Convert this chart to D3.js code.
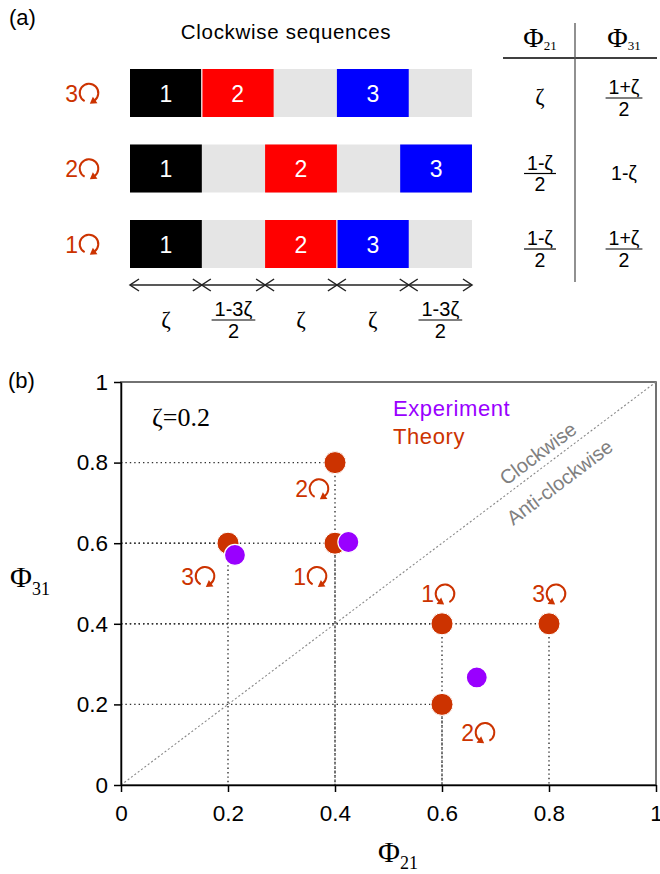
<!DOCTYPE html>
<html>
<head>
<meta charset="utf-8">
<script src="https://cdn.jsdelivr.net/npm/d3@7"></script>
<style>body{margin:0;background:#fff}</style>
</head>
<body>
<div id="fig"></div>
<script>
// panel (a): clockwise sequences, 0 = empty gap slot
const rowNames = ["3", "2", "1"];
const seq3 = [1, 2, 0, 3, 0];
const seq2 = [1, 0, 2, 0, 3];
const seq1 = [1, 0, 2, 3, 0];
const zetaDrawn = 0.21;   // width of a block as drawn in the sketch
const axisSlots = ["z", "g", "z", "z", "g"];
const axisLabels = ["ζ", "1-3ζ|2", "ζ", "ζ", "1-3ζ|2"];
const tablePhi21 = ["ζ", "1-ζ|2", "1-ζ|2"];
const tablePhi31 = ["1+ζ|2", "1-ζ", "1+ζ|2"];

// panel (b)
const zeta = 0.2;
const theoryPhi21 = [0.2, 0.4, 0.4, 0.6, 0.8, 0.6];
const theoryPhi31 = [0.6, 0.8, 0.6, 0.4, 0.4, 0.2];
const theoryNum = ["3", "2", "1", "1", "3", "2"];
const theoryCw = [true, true, true, false, false, false];
const expPhi21 = [0.213, 0.425, 0.665];
const expPhi31 = [0.571, 0.603, 0.267];
const tickVals = [0, 0.2, 0.4, 0.6, 0.8, 1];

const sans = "'Liberation Sans', Arial, sans-serif";
const serif = "'Liberation Serif', 'Times New Roman', serif";
const theoryColor = "#cc3300", expColor = "#9900ff";

const svg = d3.select("#fig").append("svg")
    .attr("width", 660).attr("height", 874)
    .style("font-family", sans);

// little circular arrow + number, centred on (x, y)
function loopLabel(g, x, y, num, cw) {
  g.append("text").attr("x", x - 4).attr("y", y + 8.5)
    .attr("text-anchor", "end").attr("font-size", 23)
    .attr("fill", theoryColor).text(num);
  const r = 9.3, cx = x + 7, cy = y;
  const a0 = cw ? 118 : 62, a1 = cw ? 415 : -235;
  const pt = a => [cx + r * Math.cos(a * Math.PI / 180), cy + r * Math.sin(a * Math.PI / 180)];
  const p0 = pt(a0), p1 = pt(a1);
  g.append("path")
    .attr("d", `M${p0[0]},${p0[1]}A${r},${r} 0 1 ${cw ? 1 : 0} ${p1[0]},${p1[1]}`)
    .attr("fill", "none").attr("stroke", theoryColor).attr("stroke-width", 2);
  const t = a1 * Math.PI / 180, s = cw ? 1 : -1;
  const dx = -Math.sin(t) * s, dy = Math.cos(t) * s;
  const nx = -dy, ny = dx;
  g.append("path")
    .attr("d", `M${p1[0] + dx * 5.5},${p1[1] + dy * 5.5}L${p1[0] - dx * 1 + nx * 4},${p1[1] - dy * 1 + ny * 4}L${p1[0] - dx * 1 - nx * 4},${p1[1] - dy * 1 - ny * 4}Z`)
    .attr("fill", theoryColor);
}

// "a|b" -> fraction a over b, else plain text; (x, y) = fraction bar centre
function mathLabel(g, x, y, s, fs) {
  if (s.indexOf("|") < 0) {
    g.append("text").attr("x", x).attr("y", y + fs * 0.33)
      .attr("text-anchor", "middle").attr("font-size", s === "ζ" ? fs + 3 : fs)
      .attr("font-family", s === "ζ" ? serif : sans).text(s);
    return;
  }
  const [num, den] = s.split("|");
  const t = g.append("text").attr("x", x).attr("y", y - 4)
    .attr("text-anchor", "middle").attr("font-size", fs).text(num);
  const w = t.node().getComputedTextLength() + 6;
  g.append("line").attr("x1", x - w / 2).attr("x2", x + w / 2)
    .attr("y1", y).attr("y2", y).attr("stroke", "#000").attr("stroke-width", 1.2);
  g.append("text").attr("x", x).attr("y", y + fs * 0.92)
    .attr("text-anchor", "middle").attr("font-size", fs).text(den);
}

// ---------- panel (a) ----------
svg.append("text").attr("x", 9).attr("y", 25).attr("font-size", 22).text("(a)");
svg.append("text").attr("x", 286).attr("y", 39).attr("text-anchor", "middle")
  .attr("font-size", 20.5).attr("letter-spacing", 0.7).text("Clockwise sequences");

const sx = d3.scaleLinear().domain([0, 1]).range([130, 472]);
const ry = d3.scalePoint().domain(rowNames).range([93, 244]);
const gap = (1 - 3 * zetaDrawn) / 2;
const seqs = {"3": seq3, "2": seq2, "1": seq1};
const blockColor = {1: "#000000", 2: "#ff0000", 3: "#0000ff"};
const barH = 48;

rowNames.forEach(r => {
  const g = svg.append("g");
  g.append("rect").attr("x", sx(0)).attr("y", ry(r) - barH / 2)
    .attr("width", sx(1) - sx(0)).attr("height", barH).attr("fill", "#e5e5e5");
  let pos = 0, prev = 0;
  seqs[r].forEach(n => {
    const w = n ? zetaDrawn : gap;
    if (n) {
      g.append("rect").attr("x", sx(pos)).attr("y", ry(r) - barH / 2)
        .attr("width", sx(pos + w) - sx(pos)).attr("height", barH)
        .attr("fill", blockColor[n]);
      g.append("text").attr("x", sx(pos + w / 2)).attr("y", ry(r) + 8.5)
        .attr("text-anchor", "middle").attr("font-size", 23).attr("fill", "#fff").text(n);
      if (prev) {
        g.append("line").attr("x1", sx(pos)).attr("x2", sx(pos))
          .attr("y1", ry(r) - barH / 2).attr("y2", ry(r) + barH / 2)
          .attr("stroke", "#fff").attr("stroke-width", 1.2);
      }
    }
    prev = n;
    pos += w;
  });
  loopLabel(g, 82, ry(r), r, true);
});

// double-headed arrows under the bars
const ay = 285;
const ga = svg.append("g").attr("stroke", "#222").attr("stroke-width", 1.5).attr("fill", "none");
ga.append("line").attr("x1", sx(0)).attr("x2", sx(1)).attr("y1", ay).attr("y2", ay);
const bounds = [0];
axisSlots.forEach(s => bounds.push(bounds[bounds.length - 1] + (s === "z" ? zetaDrawn : gap)));
bounds.forEach((b, i) => {
  const X = sx(b);
  if (i > 0) ga.append("path").attr("d", `M${X - 9},${ay - 6}L${X},${ay}L${X - 9},${ay + 6}`);
  if (i < bounds.length - 1) ga.append("path").attr("d", `M${X + 9},${ay - 6}L${X},${ay}L${X + 9},${ay + 6}`);
});
const gl = svg.append("g");
axisLabels.forEach((s, i) => mathLabel(gl, sx((bounds[i] + bounds[i + 1]) / 2), 320, s, 20));

// table
const gt = svg.append("g");
const col1 = 540, col2 = 624;
gt.append("line").attr("x1", 503).attr("x2", 657).attr("y1", 58).attr("y2", 58)
  .attr("stroke", "#000").attr("stroke-width", 1.3);
gt.append("line").attr("x1", 575).attr("x2", 575).attr("y1", 23).attr("y2", 282)
  .attr("stroke", "#555").attr("stroke-width", 1.3);
[["21", col1], ["31", col2]].forEach(([sub, cx]) => {
  const t = gt.append("text").attr("x", cx).attr("y", 47).attr("text-anchor", "middle")
    .attr("font-family", serif);
  t.append("tspan").attr("font-size", 28).text("Φ");
  t.append("tspan").attr("font-size", 13).attr("dy", 3).text(sub);
});
rowNames.forEach((r, i) => {
  mathLabel(gt, col1, ry(r) + 5, tablePhi21[i], 19.5);
  mathLabel(gt, col2, ry(r) + 5, tablePhi31[i], 19.5);
});

// ---------- panel (b) ----------
svg.append("text").attr("x", 8).attr("y", 388).attr("font-size", 22).text("(b)");

const x = d3.scaleLinear().domain([0, 1]).range([121, 656]);
const y = d3.scaleLinear().domain([0, 1]).range([785, 382]);

svg.append("rect").attr("x", x(0)).attr("y", y(1))
  .attr("width", x(1) - x(0)).attr("height", y(0) - y(1))
  .attr("fill", "none").attr("stroke", "#444").attr("stroke-width", 1.5);

// diagonal
svg.append("line").attr("x1", x(0)).attr("y1", y(0)).attr("x2", x(1)).attr("y2", y(1))
  .attr("stroke", "#888").attr("stroke-width", 1.1).attr("stroke-dasharray", "2,2.2");

const ang = Math.atan2(y(0) - y(1), x(1) - x(0)) * 180 / Math.PI;
const dg = svg.append("g")
  .attr("transform", `translate(${x(0.795)},${y(0.795)}) rotate(${-ang})`)
  .attr("fill", "#808080").attr("font-size", 20).attr("text-anchor", "middle");
dg.append("text").attr("y", -7).text("Clockwise");
dg.append("text").attr("y", 29).text("Anti-clockwise");

// dotted guides from each theory point to both axes
const gg = svg.append("g").attr("stroke", "#333").attr("stroke-width", 1.4)
  .attr("stroke-dasharray", "1.4,3");
theoryPhi21.forEach((p, i) => {
  gg.append("line").attr("x1", x(0)).attr("x2", x(p))
    .attr("y1", y(theoryPhi31[i])).attr("y2", y(theoryPhi31[i]));
  gg.append("line").attr("x1", x(p)).attr("x2", x(p))
    .attr("y1", y(theoryPhi31[i])).attr("y2", y(0));
});

// axes
const xAxis = svg.append("g").attr("transform", `translate(0,${y(0)})`)
  .call(d3.axisBottom(x).tickValues(tickVals).tickFormat(d3.format("~g"))
    .tickSize(7).tickPadding(13).tickSizeOuter(0));
const yAxis = svg.append("g").attr("transform", `translate(${x(0)},0)`)
  .call(d3.axisLeft(y).tickValues(tickVals).tickFormat(d3.format("~g"))
    .tickSize(7).tickPadding(6).tickSizeOuter(0));
[xAxis, yAxis].forEach(a => {
  a.attr("font-size", 22.5).attr("font-family", sans);
  a.selectAll("path, line").attr("stroke", "#000").attr("stroke-width", 1.5);
  a.selectAll("text").attr("fill", "#000");
});

// points
svg.append("g").selectAll("circle").data(theoryPhi21).join("circle")
  .attr("cx", d => x(d)).attr("cy", (d, i) => y(theoryPhi31[i]))
  .attr("r", 11).attr("fill", theoryColor).attr("stroke", "#fff").attr("stroke-width", 1);
svg.append("g").selectAll("circle").data(expPhi21).join("circle")
  .attr("cx", d => x(d)).attr("cy", (d, i) => y(expPhi31[i]))
  .attr("r", 10.5).attr("fill", expColor).attr("stroke", "#fff").attr("stroke-width", 1.2);

// loop labels next to theory points
const labOff = [[-30, 33], [-23, 26], [-25, 33], [-4, -30], [0, -30], [36, 28]];
const gLab = svg.append("g");
theoryPhi21.forEach((p, i) => {
  loopLabel(gLab, x(p) + labOff[i][0], y(theoryPhi31[i]) + labOff[i][1], theoryNum[i], theoryCw[i]);
});

// annotations
svg.append("text").attr("x", 152).attr("y", 426).attr("font-family", serif)
  .attr("font-size", 26).text(`ζ=${zeta}`);
svg.append("text").attr("x", 393).attr("y", 416).attr("font-size", 22)
  .attr("letter-spacing", 0.6).attr("fill", expColor).text("Experiment");
svg.append("text").attr("x", 393).attr("y", 444).attr("font-size", 22)
  .attr("letter-spacing", 0.6).attr("fill", theoryColor).text("Theory");

// axis titles
const yt = svg.append("text").attr("x", 10).attr("y", 587).attr("font-family", serif);
yt.append("tspan").attr("font-size", 30).text("Φ");
yt.append("tspan").attr("font-size", 18).attr("dy", 8).text("31");
const xt = svg.append("text").attr("x", 378).attr("y", 862).attr("font-family", serif);
xt.append("tspan").attr("font-size", 30).text("Φ");
xt.append("tspan").attr("font-size", 18).attr("dy", 7).text("21");
</script>
</body>
</html>
